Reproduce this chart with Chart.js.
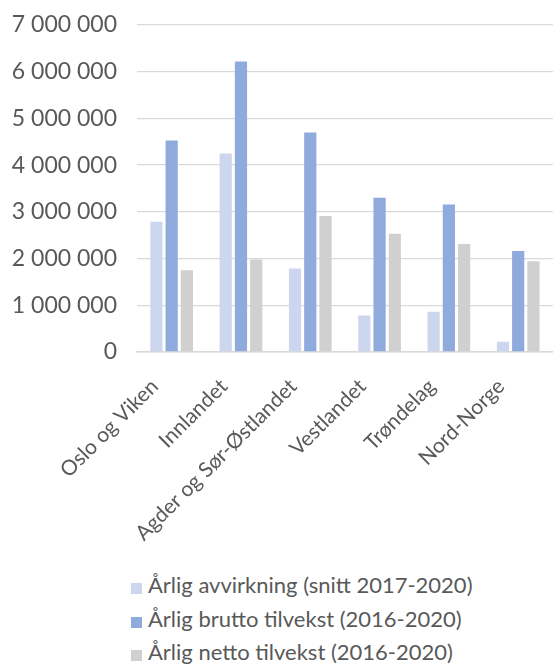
<!DOCTYPE html>
<html>
<head>
<meta charset="utf-8">
<script src="https://cdn.jsdelivr.net/npm/chart.js@4"></script>
<style>
  body { margin: 0; background: #fff; }
  #wrap { position: relative; width: 558px; height: 664px; }
  #box { position: absolute; left: 0; top: 0; width: 558px; height: 565px; }
  #legend { position: absolute; left: 131px; top: 568px; font-family: Lato, sans-serif; font-size: 22px; color: #595959; }
  #legend div { height: 33.5px; line-height: 33.5px; white-space: nowrap; }
  #legend span { display: inline-block; width: 11px; height: 11px; margin-right: 6px; vertical-align: -1px; }
</style>
</head>
<body>
<div id="wrap">
  <div id="box"><canvas id="chart"></canvas></div>
  <div id="legend"></div>
</div>
<script>
const regions = ["Oslo og Viken", "Innlandet", "Agder og Sør-Østlandet", "Vestlandet", "Trøndelag", "Nord-Norge"];
const seriesNames = [
  "Årlig avvirkning (snitt 2017-2020)",
  "Årlig brutto tilvekst (2016-2020)",
  "Årlig netto tilvekst (2016-2020)",
];
const avvirkning = [2790000, 4250000, 1790000, 780000, 860000, 220000];
const bruttoTilvekst = [4530000, 6220000, 4700000, 3300000, 3160000, 2160000];
const nettoTilvekst = [1750000, 1980000, 2910000, 2530000, 2310000, 1940000];
const yTicks = [0, 1000000, 2000000, 3000000, 4000000, 5000000, 6000000, 7000000];

const colors = ["#CCD7EF", "#8FAADC", "#D0D0D0"];
const textColor = "#595959";
const gridColor = "#D9D9D9";

// norwegian style: space as thousands separator
function fmt(v) {
  return String(v).replace(/\B(?=(\d{3})+(?!\d))/g, " ");
}

const values = [avvirkning, bruttoTilvekst, nettoTilvekst];

const chart = new Chart(document.getElementById("chart"), {
  type: "bar",
  data: {
    labels: regions,
    datasets: values.map((data, i) => ({
      label: seriesNames[i],
      data: data,
      backgroundColor: colors[i],
      borderWidth: 0,
      barPercentage: 0.8,
      categoryPercentage: 0.66,
    })),
  },
  options: {
    responsive: true,
    maintainAspectRatio: false,
    animation: false,
    layout: { padding: 0 },
    plugins: {
      legend: { display: false },
      tooltip: { enabled: false },
    },
    scales: {
      x: {
        grid: { display: false, drawTicks: false },
        border: { color: gridColor, width: 1.5 },
        ticks: {
          color: textColor,
          font: { family: "Lato", size: 21 },
          minRotation: 45,
          maxRotation: 45,
          padding: 22,
          labelOffset: -17,
          autoSkip: false,
        },
        afterFit: (scale) => {
          scale.height = 565 - 352;
        },
      },
      y: {
        min: 0,
        max: 7000000,
        afterBuildTicks: (scale) => {
          scale.ticks = yTicks.map((v) => ({ value: v }));
        },
        afterFit: (scale) => {
          // fixed axis width; keep the tick padding from pushing the plot down
          scale.width = 137;
          scale.paddingTop = 25;
          scale.paddingBottom = 0;
        },
        grid: { color: gridColor, lineWidth: 1.3, drawTicks: false },
        border: { display: false },
        ticks: {
          color: textColor,
          font: { family: "Lato", size: 23 },
          padding: 20,
          callback: (v) => fmt(v),
        },
      },
    },
  },
});

// legend list under the chart, one series per line
const legendEl = document.getElementById("legend");
chart.data.datasets.forEach((ds) => {
  const row = document.createElement("div");
  const sw = document.createElement("span");
  sw.style.background = ds.backgroundColor;
  row.appendChild(sw);
  row.appendChild(document.createTextNode(ds.label));
  legendEl.appendChild(row);
});
</script>
</body>
</html>
